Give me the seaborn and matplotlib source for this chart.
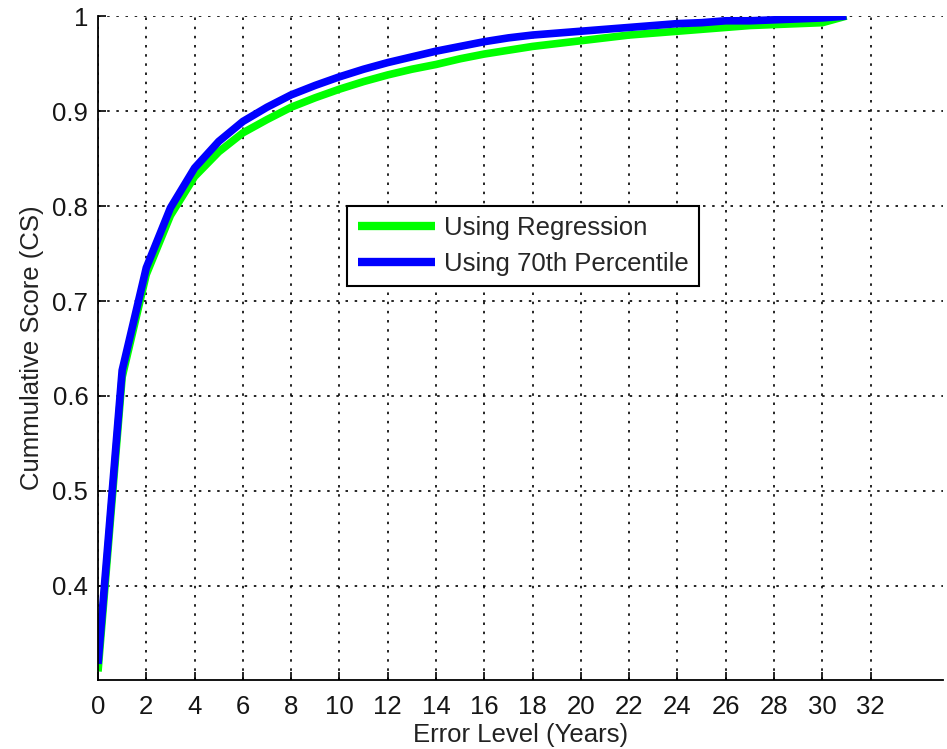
import numpy as np
import pandas as pd
import matplotlib
matplotlib.use("Agg")
import matplotlib.pyplot as plt
import seaborn as sns

# ---- data ----
error_level = list(range(0, 32))
cs_regression = [0.310, 0.620, 0.728, 0.790, 0.831, 0.857, 0.877, 0.891, 0.904, 0.914,
                 0.923, 0.931, 0.938, 0.944, 0.949, 0.955, 0.960, 0.964, 0.968, 0.971,
                 0.974, 0.977, 0.980, 0.982, 0.984, 0.986, 0.988, 0.990, 0.991, 0.992,
                 0.993, 1.000]
cs_percentile = [0.318, 0.627, 0.735, 0.798, 0.840, 0.868, 0.889, 0.904, 0.917, 0.927,
                 0.936, 0.944, 0.951, 0.957, 0.963, 0.968, 0.973, 0.977, 0.980, 0.982,
                 0.984, 0.986, 0.988, 0.990, 0.992, 0.993, 0.995, 0.995, 0.996, 0.997,
                 0.998, 1.000]
series_names = ["Using Regression", "Using 70th Percentile"]
series_colors = ["#00ff00", "#0000ff"]
x_ticks = list(range(0, 33, 2))
y_ticks = [0.4, 0.5, 0.6, 0.7, 0.8, 0.9, 1.0]
y_tick_labels = ["0.4", "0.5", "0.6", "0.7", "0.8", "0.9", "1"]

df = pd.DataFrame({
    "x": error_level * 2,
    "y": cs_regression + cs_percentile,
    "series": [series_names[0]] * len(error_level) + [series_names[1]] * len(error_level),
})

sns.set_theme(style="white")
plt.rcParams["font.family"] = ["Liberation Sans", "DejaVu Sans"]

fig = plt.figure(figsize=(9.47, 7.49), dpi=100)
ax = fig.add_axes([0.1035, 0.0921, 0.8923, 0.8865])

sns.lineplot(data=df, x="x", y="y", hue="series", hue_order=series_names,
             palette=dict(zip(series_names, series_colors)), linewidth=5.5,
             ax=ax, legend=True, solid_capstyle="butt")

ax.set_xlim(0, 35)
ax.set_ylim(0.301, 1.0)
ax.set_xticks(x_ticks)
ax.set_xticklabels([str(t) for t in x_ticks])
ax.set_yticks(y_ticks)
ax.set_yticklabels(y_tick_labels)

ax.grid(True, color="black", linestyle=(0, (1.5, 4)), linewidth=1.2)
ax.set_axisbelow(True)

for s in ["top", "right"]:
    ax.spines[s].set_visible(False)
for s in ["left", "bottom"]:
    ax.spines[s].set_color("black")
    ax.spines[s].set_linewidth(1.3)

ax.tick_params(axis="both", direction="in", length=6, width=1.2, color="black",
               labelsize=18.5, labelcolor="#151515",
               left=True, bottom=True)
ax.tick_params(axis="x", pad=11)
ax.tick_params(axis="y", pad=7)

ax.set_xlabel("Error Level (Years)", fontsize=18.5, color="#222222", labelpad=3)
ax.set_ylabel("Cummulative Score (CS)", fontsize=18.5, color="#222222", labelpad=6)

leg = ax.legend(loc="upper left", bbox_to_anchor=(0.295, 0.714), fontsize=18.5,
                frameon=True, fancybox=False, edgecolor="black", framealpha=1,
                handlelength=3.0, handletextpad=0.35, labelspacing=0.45,
                borderpad=0.4, borderaxespad=0)
leg.get_frame().set_linewidth(1.5)
for line in leg.get_lines():
    line.set_linewidth(6)
    line.set_solid_capstyle("butt")

fig.savefig("out.png", dpi=100)
